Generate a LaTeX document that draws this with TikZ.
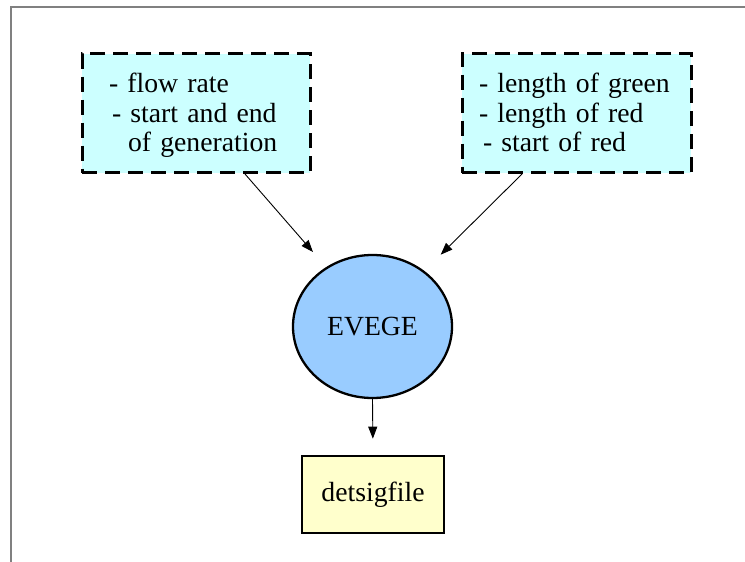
\documentclass[tikz,border=0pt]{standalone}
\usepackage{fontspec}
\setmainfont{Liberation Serif}
\usetikzlibrary{arrows.meta,calc,shapes.geometric}
\definecolor{inputfill}{HTML}{CCFFFF}
\definecolor{procfill}{HTML}{99CCFF}
\definecolor{filefill}{HTML}{FFFFCC}
\definecolor{framegray}{HTML}{808080}
% struts that give every three-line box the same text block
\newcommand{\topstrut}{\rule{0pt}{25pt}}
\newcommand{\botstrut}{\rule[-7pt]{0pt}{7pt}}
\begin{document}
\begin{tikzpicture}[x=1pt,y=-1pt,
  every node/.style={font=\fontsize{27.7}{29.5}\selectfont},
  inputbox/.style={draw=black, fill=inputfill, line width=3pt,
    dash pattern=on 15pt off 8pt, rectangle, minimum height=119pt,
    align=left, inner ysep=0pt},
  procnode/.style={draw=black, fill=procfill, line width=2.3pt, ellipse,
    minimum width=159pt, minimum height=143pt, inner sep=0pt},
  filenode/.style={draw=black, fill=filefill, line width=2.6pt, rectangle,
    minimum width=142pt, minimum height=77pt, inner sep=0pt},
  flow/.style={draw=black, line width=0.9pt,
    -{Triangle[length=12pt,width=9pt]}}
]
\useasboundingbox (0,0) rectangle (745,562);
% page frame
\draw[framegray, line width=2pt] (11,562) -- (11,7) -- (745,7);

% input parameter boxes
\node[inputbox, inner xsep=27pt, text width=174pt] (gen) at (196,113)
  {\topstrut- flow rate\\\hspace*{3pt}- start and end\\\hspace*{19pt}of generation\botstrut};
\node[inputbox, inner xsep=17pt, text width=195pt] (sig) at (576.5,113)
  {\topstrut- length of green\\- length of red\\\hspace*{4pt}- start of red\botstrut};

% process and output file
\node[procnode] (evege) at (372.5,326.5) {EVEGE};
\node[filenode] (file) at (373,494.5) {detsigfile};

% data flow
\draw[flow, shorten >=20pt] ($(gen.south)+(49,0)$) -- (evege.128);
\draw[flow, shorten >=23pt] ($(sig.south)+(-54.5,0)$) -- (evege.47.7);
\draw[flow, shorten >=16pt] (evege.south) -- (file.north);
\end{tikzpicture}
\end{document}
